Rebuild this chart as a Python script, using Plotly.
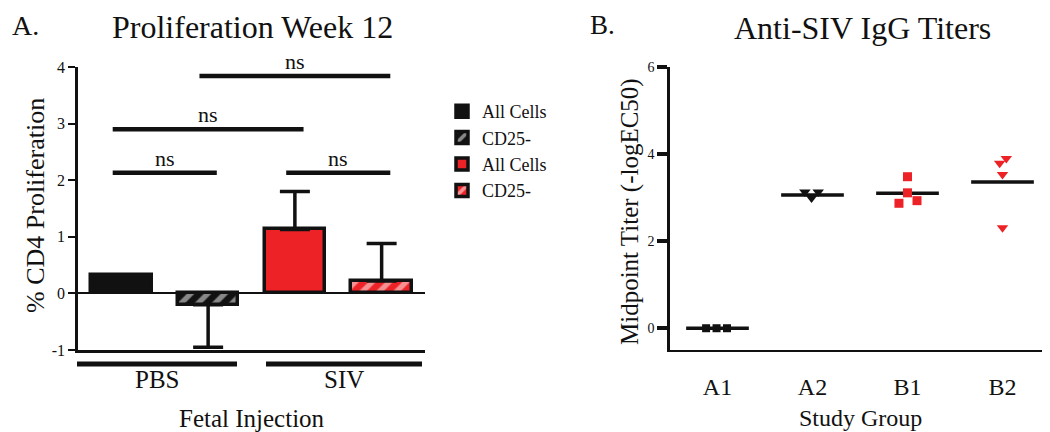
import plotly.graph_objects as go

# ---------------- Panel A data: Proliferation Week 12 ----------------
bar_names = ["All Cells", "CD25-", "All Cells", "CD25-"]
bar_group = ["PBS", "PBS", "SIV", "SIV"]
bar_values = [0.33, -0.20, 1.13, 0.22]
bar_err_up = [0.0, 0.0, 0.67, 0.66]
bar_err_down = [0.0, 0.75, 0.0, 0.0]
group_names = ["PBS", "SIV"]
a_yticks = [-1, 0, 1, 2, 3, 4]
# significance comparisons: (left bar index, right bar index, bracket height)
cmp_left = [1, 0, 0, 2]
cmp_right = [3, 2, 1, 3]
cmp_height = [3.84, 2.90, 2.13, 2.13]
cmp_text = ["ns", "ns", "ns", "ns"]

# ---------------- Panel B data: Anti-SIV IgG Titers ----------------
study_groups = ["A1", "A2", "B1", "B2"]
titers_A1 = [0.0, 0.0, 0.0]
jitter_A1 = [-0.12, -0.01, 0.10]
titers_A2 = [3.13, 3.13, 2.99]
jitter_A2 = [-0.08, 0.06, -0.01]
titers_B1 = [3.48, 3.11, 2.87, 2.93]
jitter_B1 = [0.0, 0.0, -0.09, 0.10]
titers_B2 = [3.79, 3.90, 3.53, 2.31]
jitter_B2 = [-0.03, 0.04, 0.0, 0.0]
group_medians = [0.0, 3.06, 3.10, 3.36]
b_yticks = [0, 2, 4, 6]

# ---------------- styling ----------------
W, H = 1050, 432
OFF = 8  # page body margin offset
FONT = "Liberation Serif"
RED = "#EC2227"
BLACK = "#111111"


def px(x):
    return (x - OFF) / W


def py(y):
    return 1 - (y - OFF) / H


fig = go.Figure()

bar_colors = [BLACK, BLACK, RED, RED]
bar_patterns = ["", "/", "", "/"]
for i in range(len(bar_values)):
    fig.add_trace(go.Bar(
        x=[i], y=[bar_values[i]], width=0.7,
        name=bar_names[i], showlegend=True,
        marker=dict(color=bar_colors[i],
                    line=dict(color=BLACK, width=3.5),
                    pattern=dict(shape=bar_patterns[i], fgcolor="white",
                                 size=12, solidity=0.45)),
        error_y=dict(type="data", symmetric=False,
                     array=[bar_err_up[i]], arrayminus=[bar_err_down[i]],
                     color=BLACK, thickness=3.5, width=15,
                     visible=(bar_err_up[i] > 0 or bar_err_down[i] > 0)),
        xaxis="x", yaxis="y",
    ))

# significance brackets
PAD = 0.1
for l, r, h, t in zip(cmp_left, cmp_right, cmp_height, cmp_text):
    fig.add_trace(go.Scatter(
        x=[l - PAD, r + PAD], y=[h, h], mode="lines",
        line=dict(color=BLACK, width=4.5), showlegend=False,
        hoverinfo="skip", xaxis="x", yaxis="y", cliponaxis=False))
    fig.add_annotation(x=(l + r) / 2, y=h, xref="x", yref="y", text=t,
                       showarrow=False, xanchor="center", yanchor="bottom",
                       yshift=0,
                       font=dict(family=FONT, size=22, color=BLACK))

# Panel B median lines
HALF = 0.33
med_x, med_y = [], []
for i, m in enumerate(group_medians):
    med_x += [i - HALF, i + HALF, None]
    med_y += [m, m, None]
fig.add_trace(go.Scatter(x=med_x, y=med_y, mode="lines",
                         line=dict(color=BLACK, width=3.5), showlegend=False,
                         hoverinfo="skip", xaxis="x2", yaxis="y2"))

b_sets = [(titers_A1, jitter_A1, "square", BLACK, 8),
          (titers_A2, jitter_A2, "triangle-down", BLACK, 10),
          (titers_B1, jitter_B1, "square", RED, 9),
          (titers_B2, jitter_B2, "triangle-down", RED, 10)]
for gi, (vals, jit, sym, col, sz) in enumerate(b_sets):
    fig.add_trace(go.Scatter(
        x=[gi + j for j in jit], y=vals, mode="markers",
        marker=dict(symbol=sym, color=col, size=sz, line=dict(width=0)),
        showlegend=False, xaxis="x2", yaxis="y2", cliponaxis=False))

# group underlines for panel A
group_px = [(77, 237), (266, 422)]
for (x0, x1), g in zip(group_px, group_names):
    fig.add_shape(type="line", xref="paper", yref="paper",
                  x0=px(x0), x1=px(x1), y0=py(364), y1=py(364),
                  line=dict(color=BLACK, width=5))
    fig.add_annotation(x=px((x0 + x1) / 2), y=py(379), xref="paper", yref="paper",
                       text=g, showarrow=False, xanchor="center", yanchor="middle",
                       font=dict(family=FONT, size=25, color=BLACK))

texts = [
    ("A.", 25, 25, 28, 0),
    ("Proliferation Week 12", 252, 27, 32, 0),
    ("B.", 602, 25, 27, 0),
    ("Anti-SIV IgG Titers", 862, 28, 32, 0),
    ("Fetal Injection", 252, 418, 25, 0),
    ("Study Group", 860, 418, 24, 0),
    ("% CD4 Proliferation", 36, 206, 26, -90),
    ("Midpoint Titer (-logEC50)", 630, 212, 25, -90),
]
for t, x, y, s, ang in texts:
    fig.add_annotation(x=px(x), y=py(y), xref="paper", yref="paper", text=t,
                       showarrow=False, textangle=ang,
                       xanchor="center", yanchor="middle",
                       font=dict(family=FONT, size=s, color=BLACK))

fig.update_layout(
    width=W, height=H, margin=dict(l=0, r=0, t=0, b=0, autoexpand=False),
    paper_bgcolor="white", plot_bgcolor="white",
    font=dict(family=FONT, color=BLACK),
    barmode="overlay", bargap=0,
    showlegend=True,
    legend=dict(x=px(442), y=py(93), xanchor="left", yanchor="top",
                font=dict(family=FONT, size=18, color=BLACK),
                bgcolor="rgba(0,0,0,0)", tracegroupgap=0),
    xaxis=dict(domain=[px(78), px(425)], range=[-0.5, 3.5], anchor="y",
               automargin=False,
               showline=True, linecolor=BLACK, linewidth=2.5,
               showticklabels=False, ticks="", showgrid=False, zeroline=False),
    yaxis=dict(domain=[py(350), py(67)], range=[-1, 4], anchor="x",
               automargin=False,
               tickvals=a_yticks, ticktext=[str(v) for v in a_yticks],
               ticks="outside", ticklen=7, tickwidth=2,
               tickcolor=BLACK, tickfont=dict(family=FONT, size=16, color=BLACK),
               showline=True, linecolor=BLACK, linewidth=2.5, showgrid=False,
               zeroline=True, zerolinecolor=BLACK, zerolinewidth=2),
    xaxis2=dict(domain=[px(670), px(1050)], range=[-0.5, 3.5], anchor="y2",
                automargin=False,
                tickvals=list(range(len(study_groups))), ticktext=study_groups,
                ticks="", ticklabelstandoff=14,
                tickfont=dict(family=FONT, size=24, color=BLACK),
                showline=True, linecolor=BLACK, linewidth=2,
                showgrid=False, zeroline=False),
    yaxis2=dict(domain=[py(350), py(67)], range=[-0.5, 6], anchor="x2",
                automargin=False,
                tickvals=b_yticks, ticktext=[str(v) for v in b_yticks],
                ticks="outside", ticklen=10, tickwidth=4,
                tickcolor=BLACK, tickfont=dict(family=FONT, size=14, color=BLACK),
                showline=True, linecolor=BLACK, linewidth=2.5,
                showgrid=False, zeroline=False),
)

fig.write_html("out.html")
